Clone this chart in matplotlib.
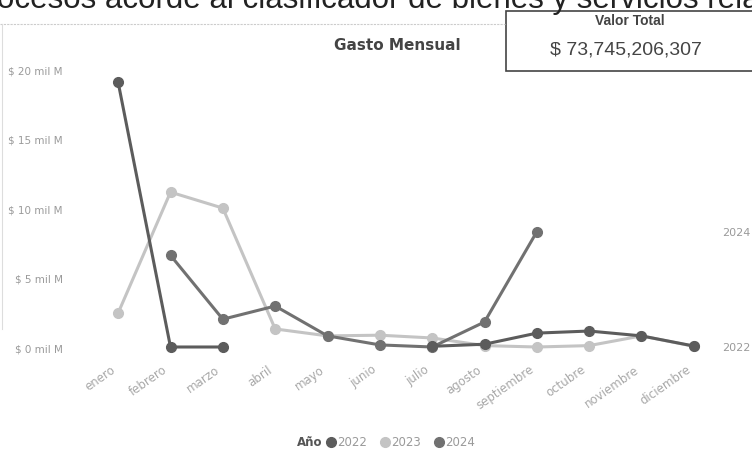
import matplotlib.pyplot as plt
import matplotlib.transforms as mtrans

meses = ['enero', 'febrero', 'marzo', 'abril', 'mayo', 'junio', 'julio',
         'agosto', 'septiembre', 'octubre', 'noviembre', 'diciembre']
nan = float('nan')
# miles de millones
g2022 = [19.05, 0.0, 0.0, nan, nan, nan, 0.05, 0.2, 1.0, 1.15, 0.8, 0.07]
g2023 = [2.45, 11.15, 10.0, 1.3, 0.8, 0.85, 0.65, 0.1, 0.0, 0.1, 0.8, 0.05]
g2024 = [nan, 6.6, 2.0, 2.95, 0.8, 0.15, 0.0, 1.8, 8.3, nan, nan, nan]
yticks = [0, 5, 10, 15, 20]
ylabels = ['$ 0 mil M', '$ 5 mil M', '$ 10 mil M', '$ 15 mil M', '$ 20 mil M']
total = '$ 73,745,206,307'

c22, c23, c24 = '#5c5c5c', '#c4c4c4', '#717171'

W, H = 752, 456
fig = plt.figure(figsize=(W / 100, H / 100), dpi=100)
fig.patch.set_facecolor('white')

# texto cortado arriba (solo se ve la parte baja)
fig.text(-3 / W, 1 - 8 / H, 'ocesos acorde al clasificador de bienes y servicios rela',
         fontsize=22.5, color='#222222', family='Liberation Sans', va='baseline')
fig.add_artist(plt.Line2D([0, 505 / W], [1 - 25 / H, 1 - 25 / H], color='#cccccc',
                          lw=0.8, ls=(0, (2, 1))))
fig.add_artist(plt.Line2D([2 / W, 2 / W], [1 - 25 / H, 1 - 330 / H], color='#dddddd', lw=0.8))

# caja valor total
fig.add_artist(plt.Rectangle((506 / W, 1 - 72 / H), 260 / W, 60 / H, facecolor='white',
                             edgecolor='#444444', lw=1.2))
fig.text(630 / W, 1 - 21 / H, 'Valor Total', ha='center', va='center', fontsize=10,
         fontweight='bold', color='#444444', family='Liberation Sans')
fig.text(626 / W, 1 - 50 / H, total, ha='center', va='center', fontsize=14,
         color='#444444', family='Liberation Sans')

fig.text(397 / W, 1 - 45 / H, 'Gasto Mensual', ha='center', va='center', fontsize=11,
         fontweight='bold', color='#444444')

ax = fig.add_axes([92 / W, 1 - 360.5 / H, 628 / W, 300 / H])
x = list(range(len(meses)))
kw = dict(marker='o', markersize=7, lw=2.2)
ax.plot(x, g2023, color=c23, zorder=2, **kw)
ax.plot(x, g2024, color=c24, zorder=3, **kw)
ax.plot(x, g2022, color=c22, zorder=4, **kw)
ax.set_xlim(-0.5, 11.5)
ax.set_ylim(-0.9, 20.7)
ax.set_yticks(yticks)
ax.set_yticklabels(ylabels, fontsize=7.5, color='#9a9a9a')
ax.set_xticks(x)
ax.set_xticklabels(meses, rotation=35, ha='right', rotation_mode='anchor',
                   fontsize=8.5, color='#a8a8a8')
ax.tick_params(length=0, axis='y', pad=21)
ax.tick_params(length=0, axis='x', pad=2)
shift = mtrans.ScaledTranslation(-8 / 100, 0, fig.dpi_scale_trans)
for lab in ax.get_xticklabels():
    lab.set_transform(lab.get_transform() + shift)
for s in ax.spines.values():
    s.set_visible(False)

ax.text(1.004, 8.3, '2024', transform=ax.get_yaxis_transform(), fontsize=8,
        color='#9a9a9a', va='center', clip_on=False)
ax.text(1.004, 0.0, '2022', transform=ax.get_yaxis_transform(), fontsize=8,
        color='#9a9a9a', va='center', clip_on=False)

# leyenda
ly = 1 - 443 / H
fig.text(297 / W, ly, 'Año', fontsize=8.5, fontweight='bold', color='#555555', va='center')
for xp, lab, col in [(331, '2022', c22), (385, '2023', c23), (439, '2024', c24)]:
    fig.add_artist(plt.Line2D([xp / W], [ly], marker='o', markersize=7, color=col))
    fig.text((xp + 6) / W, ly, lab, fontsize=8.5, color='#9a9a9a', va='center')

fig.savefig('out.png', dpi=100, facecolor='white')
